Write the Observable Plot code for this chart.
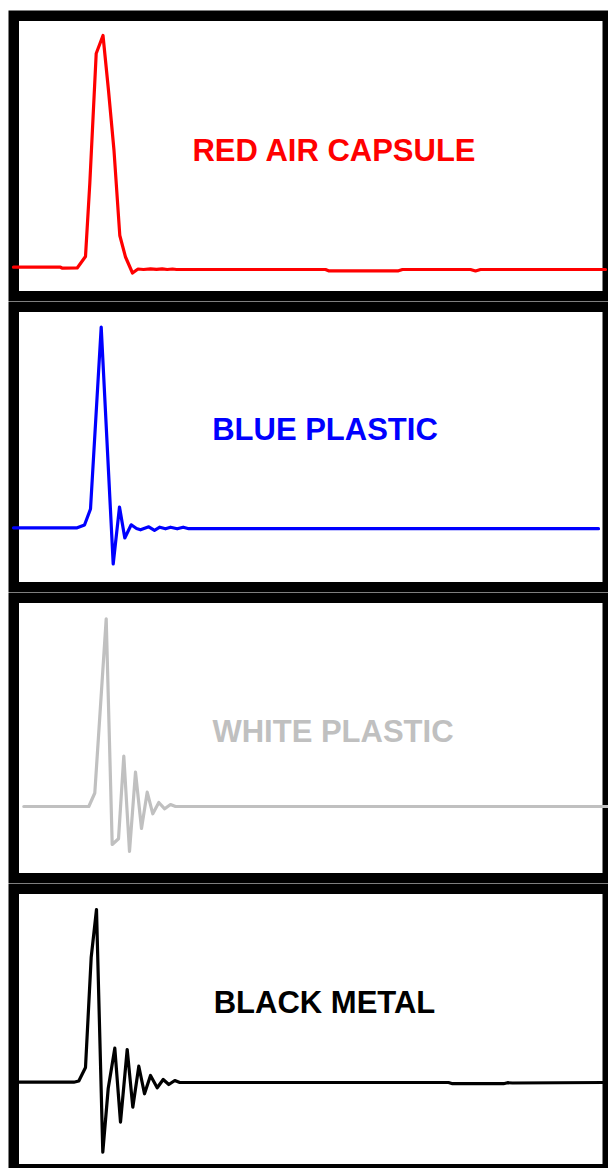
<!DOCTYPE html>
<html>
<head>
<meta charset="utf-8">
<script src="https://cdn.jsdelivr.net/npm/d3@7"></script>
<script src="https://cdn.jsdelivr.net/npm/@observablehq/plot@0.6"></script>
<style>
html, body { margin: 0; padding: 0; background: #fff; }
#chart { padding-top: 10px; width: 608px; overflow: hidden; }
#chart svg { display: block; }
</style>
</head>
<body>
<div id="chart"></div>
<script>
// ---- Data (time samples and signal amplitude) ----
const redTime = [13, 60, 62, 76.7, 85, 89.3, 95.7, 102.5, 108, 113.5, 119.3, 125, 132, 137.5, 143, 150, 156, 161.7, 166.7, 172, 176, 325, 328, 398, 402, 470, 475, 480, 605];
const redAmp  = [0, 0, -1, -0.8, 10.7, 83.7, 213.7, 231.7, 176.7, 116.7, 31.7, 10.2, -5.8, -1.8, -2.3, -1.6, -2.1, -1.6, -2.3, -1.8, -2.3, -2.3, -3.6, -3.6, -2.3, -2.3, -3.8, -2.3, -2.3];

const blueTime = [13, 76.7, 84, 90, 100.7, 112.7, 119, 124.3, 130.7, 136, 140, 148.3, 154, 159.3, 165, 170, 176.7, 182.7, 188.3, 598];
const blueAmp  = [0, 0, 2.8, 18.8, 200.8, -36.2, 20.8, -10.2, 3, -0.7, -2, 1, -2.5, 0.6, -1, 0.6, -1, 0.6, -0.9, -0.9];

const whiteTime = [23.3, 88.3, 94.3, 105.7, 111.7, 118, 123.3, 129, 135, 141, 146.7, 152.3, 158.3, 164.2, 170, 175, 608];
const whiteAmp  = [0, 0, 13.5, 187.7, -38, -32.3, 50.5, -45, 34.3, -22, 14.3, -7.3, 4, -2.3, 2, 0, 0];

const blackTime = [18.5, 73.3, 78.3, 85, 90.7, 96, 102.3, 107.7, 114.3, 120, 126.7, 132.3, 138.3, 144, 150, 156.7, 162.7, 168.3, 174.3, 179.3, 448, 452, 503, 507, 512, 603];
const blackAmp  = [0, 0, 1.2, 14.7, 125, 172.7, -70, -6.3, 34, -40, 32.7, -25, 16, -11.6, 6.7, -5.6, 2.7, -2.3, 1.7, -0.3, -0.3, -1.5, -1.5, -0.5, -0.8, -0.3];

const labels = ["RED AIR CAPSULE", "BLUE PLASTIC", "WHITE PLASTIC", "BLACK METAL"];
const colors = ["#ff0000", "#0000ff", "#c0c0c0", "#000000"];

// ---- Panel configuration (scales + label placement) ----
const panels = [
  {time: redTime,   amp: redAmp,   yDomain: [-29.05, 251.45], labelX: 333.5, labelY: 116.5},
  {time: blueTime,  amp: blueAmp,  yDomain: [-59.45, 221.05], labelX: 324.5, labelY: 97.5},
  {time: whiteTime, amp: whiteAmp, yDomain: [-71.75, 208.75], labelX: 332.5, labelY: 74},
  {time: blackTime, amp: blackAmp, yDomain: [-87.05, 193.45], labelX: 324,   labelY: 79.5}
];

const W = 608, H = 291, BORDER = 10.5;
const root = document.getElementById("chart");

panels.forEach((p, i) => {
  const data = p.time.map((t, k) => ({t, a: p.amp[k]}));
  const svg = Plot.plot({
    width: W,
    height: H,
    marginLeft: 8 + BORDER / 2,
    marginRight: 0.75,
    marginTop: BORDER / 2,
    marginBottom: BORDER / 2,
    x: {domain: [13.25, 607.25], axis: null},
    y: {domain: p.yDomain, axis: null},
    style: {background: "white"},
    marks: [
      Plot.frame({stroke: "black", strokeWidth: BORDER}),
      Plot.line(data, {x: "t", y: "a", stroke: colors[i], strokeWidth: 3.2}),
      Plot.text([labels[i]], {
        x: () => p.labelX, y: () => p.labelY, text: d => d,
        fill: colors[i], fontSize: 31, fontWeight: "bold",
        fontFamily: "'Liberation Sans', Arial, sans-serif",
        textAnchor: "middle", lineAnchor: "middle"
      })
    ]
  });
  root.appendChild(svg);
});
</script>
</body>
</html>
